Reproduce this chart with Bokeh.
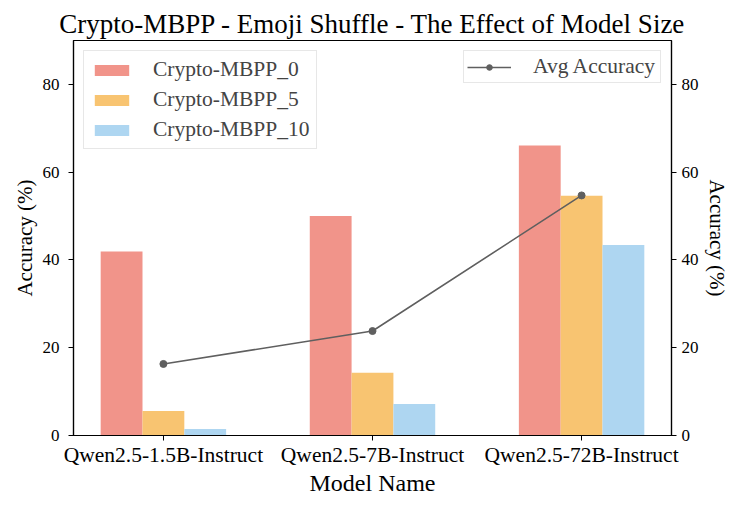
import math
from bokeh.plotting import figure
from bokeh.models import (Range1d, LinearAxis, FixedTicker, Legend, LegendItem, Label)
from bokeh.embed import file_html
from bokeh.resources import INLINE

models = ["Qwen2.5-1.5B-Instruct", "Qwen2.5-7B-Instruct", "Qwen2.5-72B-Instruct"]
series_names = ["Crypto-MBPP_0", "Crypto-MBPP_5", "Crypto-MBPP_10"]
mbpp_0 = [41.9, 50.0, 66.1]
mbpp_5 = [5.6, 14.3, 54.6]
mbpp_10 = [1.5, 7.2, 43.4]
avg_accuracy = [16.3, 23.8, 54.7]
y_ticks = [0, 20, 40, 60, 80]

FONT = "Liberation Serif"
colors = ["#F1948A", "#F8C471", "#AED6F1"]

xs = list(range(len(models)))

p = figure(width=731, height=498, output_backend="svg", toolbar_location=None,
           x_range=Range1d(-0.43, 2.43), y_range=Range1d(0, 90),
           min_border_left=73, min_border_right=59, min_border_top=40, min_border_bottom=58)
p.extra_y_ranges = {"avg": Range1d(0, 90)}

p.title.text = "Crypto-MBPP - Emoji Shuffle - The Effect of Model Size"
p.title.align = "center"
p.title.text_font = FONT
p.title.text_font_size = "27px"
p.title.text_font_style = "normal"
p.title.text_color = "black"
p.title.standoff = 4

p.grid.visible = False
p.outline_line_color = "black"
p.outline_line_width = 1.2
p.background_fill_color = "white"
p.border_fill_color = "white"

bar_renderers = []
for i, (vals, c) in enumerate(zip([mbpp_0, mbpp_5, mbpp_10], colors)):
    r = p.vbar(x=[x + (i - 1) * 0.2 for x in xs], top=vals, width=0.2, bottom=0,
               fill_color=c, line_color=c, line_alpha=0.0)
    bar_renderers.append(r)

line_r = p.line(xs, avg_accuracy, line_color="#5f5f5f", line_width=1.6, y_range_name="avg")
dot_r = p.scatter(xs, avg_accuracy, size=7, fill_color="#5f5f5f", line_color="#5f5f5f",
                  y_range_name="avg")

ax2 = LinearAxis(y_range_name="avg", ticker=FixedTicker(ticks=y_ticks))
p.add_layout(ax2, "right")

for ax in [p.xaxis[0], p.yaxis[0], ax2]:
    ax.major_label_text_font = FONT
    ax.axis_label_text_font = FONT
    ax.axis_label_text_font_style = "normal"
    ax.minor_tick_line_color = None
    ax.major_tick_out = 5
    ax.major_tick_in = 0
    ax.axis_line_width = 1.2
    ax.major_label_text_color = "black"
    ax.axis_label_text_color = "black"
    ax.axis_line_color = "black"
    ax.major_tick_line_color = "black"

p.xaxis.ticker = FixedTicker(ticks=xs)
p.xaxis.major_label_overrides = {i: m for i, m in enumerate(models)}
p.xaxis.major_label_text_font_size = "21.5px"
p.xaxis.major_label_standoff = 2
p.xaxis.axis_label = "Model Name"
p.xaxis.axis_label_text_font_size = "24px"
p.xaxis.axis_label_standoff = 0

p.yaxis.ticker = FixedTicker(ticks=y_ticks)
p.yaxis.major_label_text_font_size = "17px"
p.yaxis.major_label_standoff = 9
p.yaxis.axis_label = "Accuracy (%)"
p.yaxis.axis_label_text_font_size = "21px"
p.yaxis.axis_label_standoff = 3

ax2.major_label_text_font_size = "17px"
ax2.major_label_standoff = 5

right_label = Label(x=2.652, y=45, text="Avg Accuracy (%)", angle=math.pi / 2,
                    text_align="center", text_baseline="middle",
                    text_font=FONT, text_font_size="21px", text_color="black")
p.add_layout(right_label)

leg1 = Legend(items=[LegendItem(label=n, renderers=[r]) for n, r in zip(series_names, bar_renderers)],
              location="top_left")
leg2 = Legend(items=[LegendItem(label="Avg Accuracy", renderers=[line_r, dot_r])],
              location="top_right")
for lg in [leg1, leg2]:
    lg.label_text_font = FONT
    lg.label_text_font_size = "21.5px"
    lg.glyph_height = 14
    lg.margin = 10
    lg.border_line_color = "#d0d0d0"
    lg.border_line_width = 1
    lg.background_fill_alpha = 0.85
    lg.label_height = 20
leg1.glyph_width = 43
leg1.padding = 6
leg1.label_standoff = 20
leg1.spacing = 5
leg2.glyph_width = 44
leg2.padding = 3
leg2.label_standoff = 22
leg2.label_width = 124
p.add_layout(leg1)
p.add_layout(leg2)

open("out.html", "w").write(file_html(p, INLINE))
